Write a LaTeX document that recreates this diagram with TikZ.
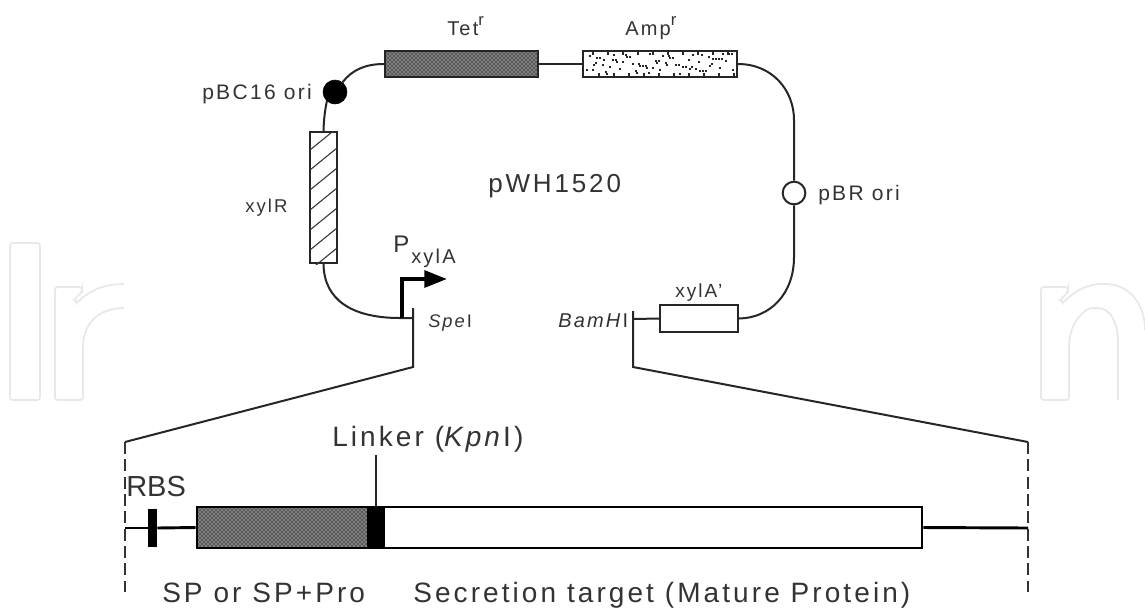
\documentclass[tikz,border=0pt]{standalone}
\usepackage{fontspec}
\setmainfont{Liberation Sans}[LetterSpace=11]
\newfontfamily\tightfont{Liberation Sans}
\usetikzlibrary{patterns,arrows.meta}
\begin{document}
\begin{tikzpicture}[x=0.75pt,y=-0.75pt,
  plas/.style={line width=1.5pt, black!85},
  thickbar/.style={line width=2.2pt},
  lbl/.style={inner sep=0pt, anchor=base west, text=black!80},
  gene/.style={draw=black!85, line width=1.5pt, inner sep=0pt, fill=white},
  bgene/.style={draw=black, line width=2.2pt, inner sep=0pt, fill=white},
  wm/.style={draw=black!9, line width=1.3pt, rounded corners=2pt},
  dashline/.style={line width=2pt, black!80, dash pattern=on 9pt off 4pt}]
\useasboundingbox (0,0) rectangle (1145,612);
\fill[white] (0,0) rectangle (1145,612);

% watermark
\draw[wm] (10,243) rectangle (40,400);
\draw[wm] (124,284) .. controls (108,284) and (92,288) .. (77,303) -- (74,300) -- (82,292) -- (82,287) -- (55,287) -- (55,400) -- (83,400) -- (83,350) .. controls (83,322) and (100,308) .. (124,308);
\draw[wm] (1145,330) .. controls (1145,305) and (1130,284) .. (1103,284) .. controls (1090,284) and (1075,290) .. (1063,303) -- (1060,300) -- (1068,292) -- (1068,287) -- (1041,287) -- (1041,400) -- (1069,400) -- (1069,350) .. controls (1069,322) and (1085,308) .. (1095,308) .. controls (1110,308) and (1118,322) .. (1118,345) -- (1118,400);

% plasmid elements
\node[gene, minimum width=114.75pt, minimum height=19.5pt,
      preaction={fill=black!65}, pattern=crosshatch dots, pattern color=white] (tet) at (461.5,64) {};
\node[gene, minimum width=115.5pt, minimum height=19.5pt] (amp) at (660,64) {};
\begin{scope}
  \clip (584,52) rectangle (736,76);
  \foreach \i in {1,...,70}{
    \pgfmathsetmacro\rx{585+mod(\i*53,149)}
    \pgfmathsetmacro\ry{53+mod(mod(\i*\i,89)*7+3*\i,21)}
    \fill[black!85] (\rx,\ry) rectangle ++(2.2,2.2);
  }
  \foreach \i in {0,...,9}{
    \fill[black!85] (592+15*\i,52) rectangle ++(1.5,3);
    \fill[black!85] (598+15*\i,73) rectangle ++(1.5,3);
  }
\end{scope}
\node[circle, fill=black, draw=black, minimum size=18pt, inner sep=0pt] (ori1) at (335,92) {};
\node[gene, minimum width=20.25pt, minimum height=98.25pt] (xylr) at (323.5,197.5) {};
\begin{scope}
  \clip (xylr.south west) rectangle (xylr.north east);
  \foreach \k in {-1,...,7}{\draw[black!80, line width=0.8pt] (310,150+20*\k) -- (337,128+20*\k);}
\end{scope}
\node[circle, fill=white, draw=black!85, line width=1.5pt, minimum size=17pt, inner sep=0pt] (pbr) at (794,193) {};
\node[gene, minimum width=58.5pt, minimum height=20.25pt] (xyla) at (699,318.5) {};

\coordinate (spe) at (413,318);
\coordinate (spetop) at (413,308);
\coordinate (spebot) at (413,367);
\coordinate (bam) at (633,319);
\coordinate (bamtop) at (633,311);
\coordinate (bambot) at (633,367);
\coordinate (prom) at (402,318);
\coordinate (promtip) at (447,279);
\coordinate (dl1) at (125,442);
\coordinate (dl2) at (125,592);
\coordinate (dr1) at (1028,442);
\coordinate (dr2) at (1028,592);

% plasmid backbone
\draw[plas] (xylr.north) .. controls (324,112) and (327,101) .. (ori1);
\draw[plas] (ori1) .. controls (352,70) and (365,64) .. (tet.west);
\draw[plas] (tet.east) -- (amp.west);
\draw[plas] (amp.east) .. controls (772,64) and (794,90) .. (794,120) -- (pbr.north);
\draw[plas] (pbr.south) -- (794,257) .. controls (794,294) and (770,318) .. (xyla.east);
\draw[plas] (xylr.south) .. controls (324,300) and (352,318) .. (400,318) -- (spe);
\draw[plas] (bam) -- (xyla.west);
\draw[line width=3pt, black, -{Triangle[length=17pt,width=12.5pt]}] (prom) -- (402,279) -- (promtip);
\draw[plas] (spetop) -- (spebot) -- (dl1);
\draw[plas] (bamtop) -- (bambot) -- (dr1);
\draw[dashline] (dl1) -- (dl2);
\draw[dashline] (dr1) -- (dr2);

% bottom construct
\coordinate (bl) at (125,528);
\coordinate (br) at (1028,528);
\node[fill=black, inner sep=0pt, minimum width=6.75pt, minimum height=28.5pt] (rbs) at (152.5,528) {};
\node[bgene, minimum width=128.25pt, minimum height=30.75pt,
      preaction={fill=black!65}, pattern=crosshatch dots, pattern color=white] (sp) at (282.5,527.5) {};
\node[fill=black, draw=black, line width=2.2pt, inner sep=0pt, minimum width=12pt, minimum height=30.75pt] (lnk) at (376,527.5) {};
\node[bgene, minimum width=403.5pt, minimum height=30.75pt] (tgt) at (653,527.5) {};
\draw[thickbar] (bl) -- (rbs.west);
\draw[thickbar] (rbs.east) -- (sp.west);
\draw[thickbar] (tgt.east) -- (br);
\coordinate (lnktop) at (376,455);
\draw[plas] (lnktop) -- (lnk.north);

% labels
\newcommand{\supr}{\raisebox{7.5pt}{\fontsize{12.5}{13}\selectfont r}}
\node[lbl, font=\fontsize{15.75}{18}\selectfont] (lori1) at (202,99) {pBC16 ori};
\node[lbl, font=\fontsize{15}{18}\selectfont] (ltet) at (447,35) {Tet\supr};
\node[lbl, font=\fontsize{15}{18}\selectfont] (lamp) at (625,35) {Amp\supr};
\node[lbl, font=\fontsize{13.9}{16}\selectfont] (lxylr) at (245,212) {xylR};
\node[lbl, font=\fontsize{19.5}{22}\selectfont] (lpwh) at (488,192) {pWH1520};
\node[lbl, font=\fontsize{15.75}{18}\selectfont] (lpbr) at (818,200) {pBR ori};
\node[lbl, font=\fontsize{18}{20}\selectfont] (lp) at (393,252) {P};
\node[lbl, font=\fontsize{15}{18}\selectfont] (lpsub) at (411,263) {xylA};
\node[lbl, font=\fontsize{13.7}{16}\selectfont] (lspe) at (428,327) {\textit{Spe}I};
\node[lbl, font=\fontsize{15}{18}\selectfont] (lbam) at (558,327) {\textit{BamH}I};
\node[lbl, font=\fontsize{14.25}{16}\selectfont] (lxyla) at (675,297) {xylA'};
\node[lbl, font=\tightfont\fontsize{21.75}{24}\selectfont] (lrbs) at (126,496) {RBS};
\node[lbl, font=\fontsize{21}{24}\selectfont] (llink) at (332,446) {Linker (\textit{Kpn}I)};
\node[lbl, font=\fontsize{21}{24}\selectfont] (lsp) at (162,602) {SP or SP+Pro};
\node[lbl, font=\fontsize{21}{24}\selectfont] (lsec) at (413,602) {Secretion target (Mature Protein)};
\end{tikzpicture}
\end{document}
